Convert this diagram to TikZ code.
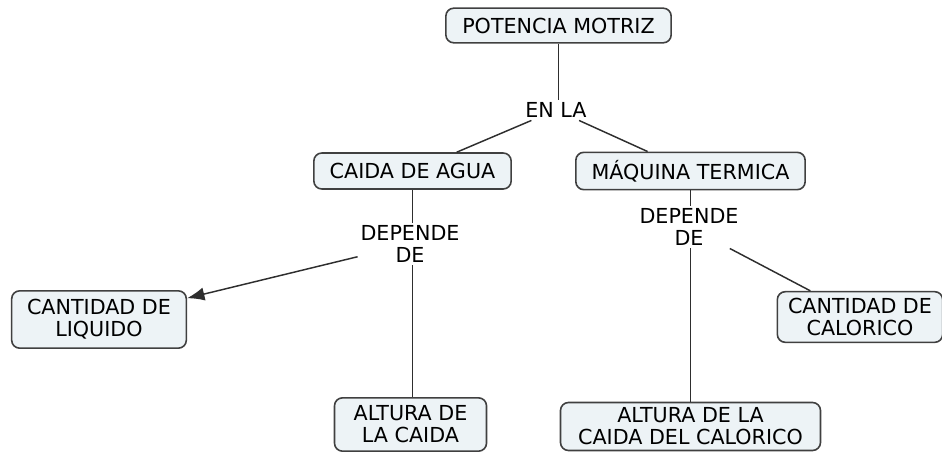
\documentclass[tikz,border=0pt]{standalone}
\usepackage{fontspec}
\setmainfont{DejaVu Sans}
\usetikzlibrary{arrows.meta}

\definecolor{boxfill}{HTML}{EDF3F6}
\definecolor{boxline}{HTML}{404040}
\definecolor{linkline}{HTML}{2E2E2E}

\tikzset{
  concepto/.style={draw=boxline, line width=1.2pt, fill=boxfill, rounded corners=6pt,
    align=center, inner xsep=4pt, inner ysep=3pt, font=\fontsize{15.5}{16.5}\selectfont},
  enlace/.style={align=center, inner sep=2pt, font=\fontsize{15.5}{16.5}\selectfont},
  linea/.style={draw=linkline, line width=1.1pt}
}

\begin{document}
\begin{tikzpicture}[x=0.75pt,y=0.75pt,yscale=-1,xscale=1]
        \useasboundingbox (0,0) rectangle (942,453);

        % Concept Nodes
        \node [concepto, minimum width=169pt, minimum height=26pt] (potencia) at (558.5,25.5) {POTENCIA MOTRIZ};
        \node [concepto, minimum width=148pt, minimum height=27pt] (agua) at (412.5,171) {CAIDA DE AGUA};
        \node [concepto, minimum width=172pt, minimum height=28pt] (maquina) at (690.5,171) {MÁQUINA TERMICA};
        \node [concepto, minimum width=131pt, minimum height=43pt] (liquido) at (99,319.5) {CANTIDAD DE\\LIQUIDO};
        \node [concepto, minimum width=114pt, minimum height=40pt] (altura) at (410.5,424.5) {ALTURA DE\\LA CAIDA};
        \node [concepto, minimum width=124pt, minimum height=38pt] (calorico) at (860,317) {CANTIDAD DE\\CALORICO};
        \node [concepto, minimum width=195pt, minimum height=36pt] (alturacal) at (690.5,426.5) {ALTURA DE LA\\CAIDA DEL CALORICO};

        % Linking Phrases
        \node [enlace] (enla) at (556,110) {EN LA};
        \node [enlace] (depagua) at (410,244) {DEPENDE\\DE};
        \node [enlace] (depmaq) at (689,227) {DEPENDE\\DE};

        % Connectors
        \draw [linea] (potencia.south) -- (potencia.south |- enla.north);
        \draw [linea] (enla) -- (agua);
        \draw [linea] (enla) -- (maquina);
        \draw [linea] (agua.south) -- (agua.south |- depagua.north);
        \draw [linea, -{Latex[length=13pt,width=10pt]}] (depagua) -- (liquido);
        \draw [linea] (agua.south |- depagua.south) -- (agua.south |- altura.north);
        \draw [linea] (maquina.south) -- (maquina.south |- depmaq.north);
        \draw [linea] (depmaq) -- (calorico);
        \draw [linea] (maquina.south |- depmaq.south) -- (maquina.south |- alturacal.north);
\end{tikzpicture}
\end{document}
